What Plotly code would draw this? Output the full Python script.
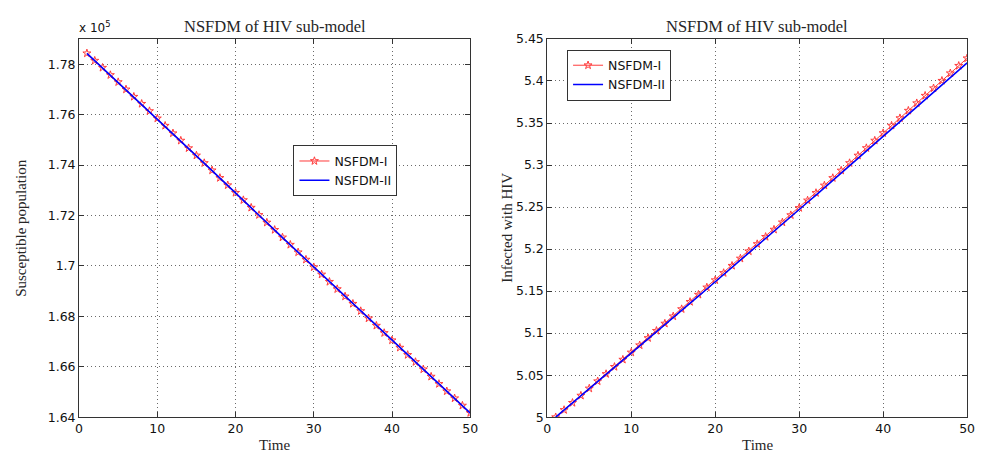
import plotly.graph_objects as go
from plotly.subplots import make_subplots

# Time steps of the NSFDM simulation
time = list(range(1, 51))

# Susceptible population (units of 1e5)
susceptible_nsfdm1 = [
    1.7843, 1.7814, 1.7786, 1.7757, 1.7729, 1.7700, 1.7671, 1.7643, 1.7614, 1.7585,
    1.7556, 1.7526, 1.7497, 1.7467, 1.7438, 1.7408, 1.7379, 1.7349, 1.7320, 1.7290,
    1.7261, 1.7231, 1.7202, 1.7172, 1.7143, 1.7113, 1.7084, 1.7054, 1.7025, 1.6995,
    1.6966, 1.6937, 1.6908, 1.6879, 1.6850, 1.6821, 1.6792, 1.6763, 1.6734, 1.6705,
    1.6676, 1.6647, 1.6619, 1.6590, 1.6561, 1.6532, 1.6503, 1.6475, 1.6446, 1.6417,
]
susceptible_nsfdm2 = [
    1.7843, 1.7814, 1.7785, 1.7757, 1.7728, 1.7699, 1.7671, 1.7642, 1.7613, 1.7584,
    1.7555, 1.7525, 1.7496, 1.7466, 1.7437, 1.7407, 1.7378, 1.7348, 1.7319, 1.7289,
    1.7260, 1.7230, 1.7201, 1.7171, 1.7142, 1.7112, 1.7083, 1.7053, 1.7024, 1.6994,
    1.6965, 1.6936, 1.6907, 1.6878, 1.6849, 1.6820, 1.6791, 1.6762, 1.6733, 1.6704,
    1.6675, 1.6646, 1.6618, 1.6589, 1.6560, 1.6531, 1.6502, 1.6474, 1.6445, 1.6416,
]

# Population infected with HIV
infected_nsfdm1 = [
    5.0000, 5.0086, 5.0171, 5.0257, 5.0342, 5.0428, 5.0514, 5.0599, 5.0685, 5.0770,
    5.0856, 5.0942, 5.1028, 5.1114, 5.1200, 5.1286, 5.1372, 5.1458, 5.1544, 5.1630,
    5.1716, 5.1802, 5.1888, 5.1974, 5.2060, 5.2146, 5.2232, 5.2318, 5.2404, 5.2490,
    5.2579, 5.2668, 5.2757, 5.2846, 5.2935, 5.3024, 5.3113, 5.3202, 5.3291, 5.3380,
    5.3469, 5.3558, 5.3647, 5.3736, 5.3825, 5.3914, 5.4003, 5.4092, 5.4181, 5.4270,
]
infected_nsfdm2 = [
    5.0000, 5.0084, 5.0169, 5.0253, 5.0338, 5.0422, 5.0507, 5.0591, 5.0676, 5.0760,
    5.0845, 5.0930, 5.1015, 5.1100, 5.1185, 5.1270, 5.1355, 5.1440, 5.1525, 5.1610,
    5.1696, 5.1782, 5.1868, 5.1954, 5.2040, 5.2126, 5.2212, 5.2298, 5.2384, 5.2470,
    5.2557, 5.2643, 5.2730, 5.2816, 5.2903, 5.2989, 5.3076, 5.3162, 5.3249, 5.3335,
    5.3423, 5.3511, 5.3599, 5.3687, 5.3775, 5.3863, 5.3951, 5.4039, 5.4127, 5.4215,
]

x_ticks = [0, 10, 20, 30, 40, 50]
s_ticks = [1.64, 1.66, 1.68, 1.70, 1.72, 1.74, 1.76, 1.78]
i_ticks = [5.0, 5.05, 5.1, 5.15, 5.2, 5.25, 5.3, 5.35, 5.4, 5.45]

RED = "#ff3b3b"
BLUE = "#0000ff"
SERIF = "Liberation Serif, serif"
SANS = "DejaVu Sans, sans-serif"
TXT = "#262626"

fig = make_subplots(rows=1, cols=2)

fig.add_trace(go.Scatter(
    x=time, y=susceptible_nsfdm1, name="NSFDM-I", mode="lines+markers",
    line=dict(color=RED, width=1),
    marker=dict(symbol="star-open", size=6, color=RED, line=dict(width=1, color=RED)),
    legend="legend",
), row=1, col=1)
fig.add_trace(go.Scatter(
    x=time, y=susceptible_nsfdm2, name="NSFDM-II", mode="lines",
    line=dict(color=BLUE, width=1.6), legend="legend",
), row=1, col=1)
fig.add_trace(go.Scatter(
    x=time, y=infected_nsfdm1, name="NSFDM-I", mode="lines+markers",
    line=dict(color=RED, width=1),
    marker=dict(symbol="star-open", size=6, color=RED, line=dict(width=1, color=RED)),
    legend="legend2",
), row=1, col=2)
fig.add_trace(go.Scatter(
    x=time, y=infected_nsfdm2, name="NSFDM-II", mode="lines",
    line=dict(color=BLUE, width=1.6), legend="legend2",
), row=1, col=2)

W, H = 985, 459
L1, R1, L2, R2 = 76, 472, 550, 975
TOP, BOT = 32, 423
y_dom = [1 - BOT / H, 1 - TOP / H]

axis_common = dict(
    showline=True, linecolor="#333333", linewidth=1, mirror="ticks",
    ticks="inside", ticklen=5, tickcolor="#333333",
    showgrid=True, gridcolor="#6a6a6a", griddash="1px,3px", gridwidth=1,
    zeroline=False, tickfont=dict(family=SANS, size=12.5, color="#111111"),
)

fig.update_xaxes(axis_common)
fig.update_yaxes(axis_common)

label_font = dict(family=SERIF, size=15, color=TXT)
title_font = dict(family=SERIF, size=16.5, color=TXT)


def paper_text(text, px, py, font, angle=0, xanchor="center"):
    return dict(text=text, x=px / W, y=1 - py / H, xref="paper", yref="paper",
                xanchor=xanchor, yanchor="middle", showarrow=False,
                textangle=angle, font=font)


fig.update_layout(
    xaxis=dict(domain=[L1 / W, R1 / W], range=[0, 50], tickvals=x_ticks),
    yaxis=dict(domain=y_dom, range=[1.64, 1.79], tickvals=s_ticks),
    xaxis2=dict(domain=[L2 / W, R2 / W], range=[0, 50], tickvals=x_ticks),
    yaxis2=dict(domain=y_dom, range=[5.0, 5.45], tickvals=i_ticks),
    width=W, height=H,
    margin=dict(l=0, r=0, t=0, b=0),
    paper_bgcolor="white", plot_bgcolor="white",
    legend=dict(
        x=293 / W, y=1 - 142 / H, xanchor="left", yanchor="top",
        bgcolor="white", bordercolor="#333333", borderwidth=1,
        font=dict(family=SANS, size=12.5, color="#111"), tracegroupgap=0,
    ),
    legend2=dict(
        x=570 / W, y=1 - 43 / H, xanchor="left", yanchor="top",
        bgcolor="white", bordercolor="#333333", borderwidth=1,
        font=dict(family=SANS, size=12.5, color="#111"), tracegroupgap=0,
    ),
    annotations=[
        paper_text("NSFDM of HIV sub-model", (L1 + R1) / 2, 19, title_font),
        paper_text("NSFDM of HIV sub-model", (L2 + R2) / 2, 19, title_font),
        paper_text("Time", (L1 + R1) / 2, 452, label_font),
        paper_text("Time", (L2 + R2) / 2, 452, label_font),
        paper_text("Susceptible population", 17, (TOP + BOT) / 2, label_font, angle=-90),
        paper_text("Infected with HIV", 509, (TOP + BOT) / 2, label_font, angle=-90),
        paper_text("x 10<sup>5</sup>", 74, 20,
                   dict(family=SANS, size=12, color="#111"), xanchor="left"),
    ],
)

fig.write_html("out.html")
